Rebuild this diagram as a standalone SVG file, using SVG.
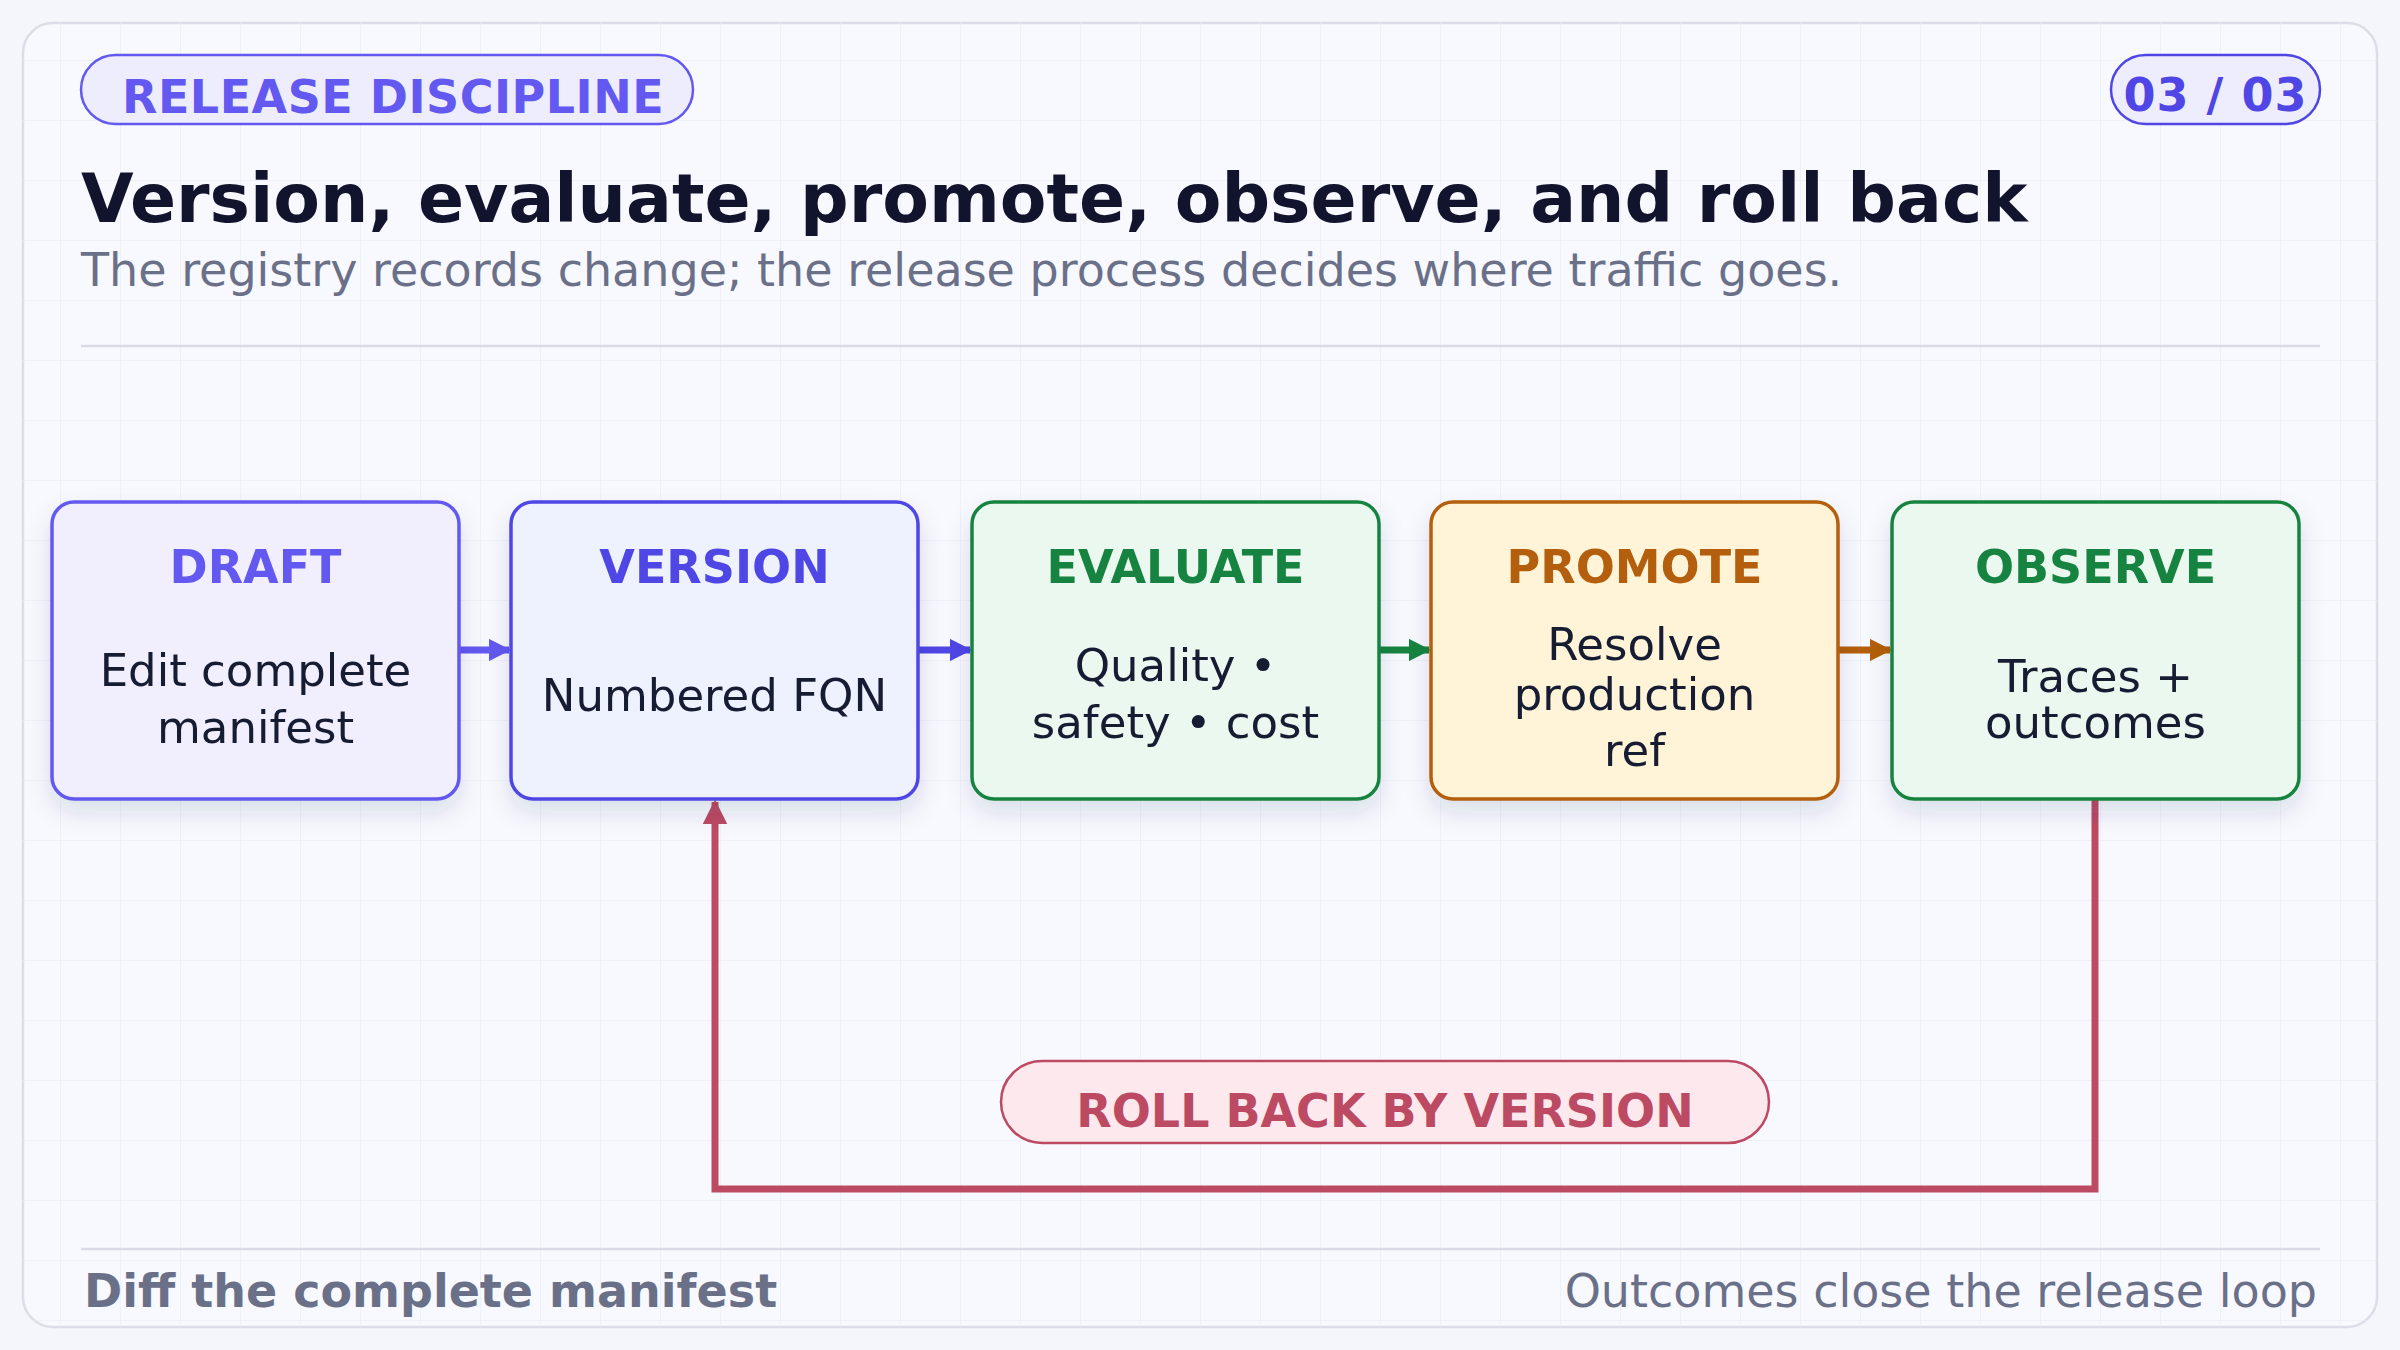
<svg xmlns="http://www.w3.org/2000/svg" width="2400" height="1350" viewBox="0 0 2400 1350">
<defs>
<pattern id="grid" width="60" height="60" patternUnits="userSpaceOnUse"><path d="M60 0H0V60" fill="none" stroke="#eceef8" stroke-width="1.5"/></pattern>
<filter id="sh" x="-20%" y="-20%" width="140%" height="150%"><feDropShadow dx="0" dy="12" stdDeviation="12" flood-color="#1e2350" flood-opacity="0.13"/></filter>
<marker id="aP" viewBox="0 0 10 10" refX="9" refY="5" markerWidth="3.2" markerHeight="3.2" orient="auto"><path d="M0 0L10 5L0 10z" fill="#6358f0"/></marker>
<marker id="aI" viewBox="0 0 10 10" refX="9" refY="5" markerWidth="3.2" markerHeight="3.2" orient="auto"><path d="M0 0L10 5L0 10z" fill="#4f46e5"/></marker>
<marker id="aG" viewBox="0 0 10 10" refX="9" refY="5" markerWidth="3.2" markerHeight="3.2" orient="auto"><path d="M0 0L10 5L0 10z" fill="#17843f"/></marker>
<marker id="aO" viewBox="0 0 10 10" refX="9" refY="5" markerWidth="3.2" markerHeight="3.2" orient="auto"><path d="M0 0L10 5L0 10z" fill="#b45f08"/></marker>
<marker id="aR" viewBox="0 0 10 10" refX="9" refY="5" markerWidth="3.5" markerHeight="3.5" orient="auto"><path d="M0 0L10 5L0 10z" fill="#bd4a63"/></marker>
</defs>
<style>
text{font-family:"DejaVu Sans",sans-serif}
.t{font-size:46px;font-weight:bold;text-anchor:middle}
.b{font-size:45px;fill:#161a33;text-anchor:middle}
.n{stroke-width:3.5}
</style>
<rect width="2400" height="1350" fill="#f5f6fc"/>
<rect x="23" y="23" width="2354" height="1304" rx="30" fill="#f8f9fe" stroke="#dcdde8" stroke-width="2.5"/>
<rect x="23" y="23" width="2354" height="1304" rx="30" fill="url(#grid)"/>
<g id="header">
<rect x="81" y="55" width="612" height="69" rx="34.5" fill="#eeedfd" stroke="#6358f0" stroke-width="2.5"/>
<text x="122" y="113" font-size="46" font-weight="bold" fill="#6358f0" letter-spacing="0.5">RELEASE DISCIPLINE</text>
<rect x="2111" y="55" width="209" height="69" rx="34.5" fill="#eeedfd" stroke="#4f46e5" stroke-width="2.5"/>
<text x="2215.5" y="111" font-size="46" font-weight="bold" fill="#4f46e5" text-anchor="middle" letter-spacing="1">03 / 03</text>
<text x="81" y="222" font-size="68" font-weight="bold" fill="#12142e">Version, evaluate, promote, observe, and roll back</text>
<text x="81" y="286" font-size="46" fill="#6b7089">The registry records change; the release process decides where traffic goes.</text>
<line x1="81" y1="346" x2="2320" y2="346" stroke="#d9dae6" stroke-width="2.5"/>
</g>
<g id="connectors" fill="none">
<line x1="459" y1="650" x2="509" y2="650" stroke="#6358f0" stroke-width="7" marker-end="url(#aP)"/>
<line x1="918" y1="650" x2="970" y2="650" stroke="#4f46e5" stroke-width="7" marker-end="url(#aI)"/>
<line x1="1379" y1="650" x2="1429" y2="650" stroke="#17843f" stroke-width="7" marker-end="url(#aG)"/>
<line x1="1838" y1="650" x2="1890" y2="650" stroke="#b45f08" stroke-width="7" marker-end="url(#aO)"/>
<path d="M2095 799V1189H715V802" stroke="#bd4a63" stroke-width="7" marker-end="url(#aR)"/>
</g>
<g id="draft" filter="url(#sh)"><rect class="n" x="52" y="502" width="407" height="297" rx="22" fill="#f1effe" stroke="#6358f0"/>
<text class="t" x="255.5" y="583" fill="#6358f0">DRAFT</text><text class="b" x="255.5" y="686">Edit complete</text><text class="b" x="255.5" y="743">manifest</text></g>
<g id="version" filter="url(#sh)"><rect class="n" x="511" y="502" width="407" height="297" rx="22" fill="#eef1fe" stroke="#4f46e5"/>
<text class="t" x="714.5" y="583" fill="#4f46e5">VERSION</text><text class="b" x="714.5" y="711">Numbered FQN</text></g>
<g id="evaluate" filter="url(#sh)"><rect class="n" x="972" y="502" width="407" height="297" rx="22" fill="#ebf8ef" stroke="#17843f"/>
<text class="t" x="1175.5" y="583" fill="#17843f">EVALUATE</text><text class="b" x="1175.5" y="681">Quality •</text><text class="b" x="1175.5" y="738">safety • cost</text></g>
<g id="promote" filter="url(#sh)"><rect class="n" x="1431" y="502" width="407" height="297" rx="22" fill="#fff4d8" stroke="#b45f08"/>
<text class="t" x="1634.5" y="583" fill="#b45f08">PROMOTE</text><text class="b" x="1634.5" y="660">Resolve</text><text class="b" x="1634.5" y="710">production</text><text class="b" x="1634.5" y="766">ref</text></g>
<g id="observe" filter="url(#sh)"><rect class="n" x="1892" y="502" width="407" height="297" rx="22" fill="#ebf8ef" stroke="#17843f"/>
<text class="t" x="2095.5" y="583" fill="#17843f">OBSERVE</text><text class="b" x="2095.5" y="692">Traces +</text><text class="b" x="2095.5" y="738">outcomes</text></g>
<g id="rollback"><rect x="1001" y="1061" width="768" height="82" rx="41" fill="#fde8ed" stroke="#bd4a63" stroke-width="2.5"/>
<text class="t" x="1385" y="1127" fill="#bd4a63">ROLL BACK BY VERSION</text></g>
<g id="footer">
<line x1="81" y1="1249" x2="2320" y2="1249" stroke="#d9dae6" stroke-width="2.5"/>
<text x="84" y="1307" font-size="46" font-weight="bold" fill="#6b7089">Diff the complete manifest</text>
<text x="2317" y="1307" font-size="46" fill="#6b7089" text-anchor="end">Outcomes close the release loop</text>
</g>
</svg>
